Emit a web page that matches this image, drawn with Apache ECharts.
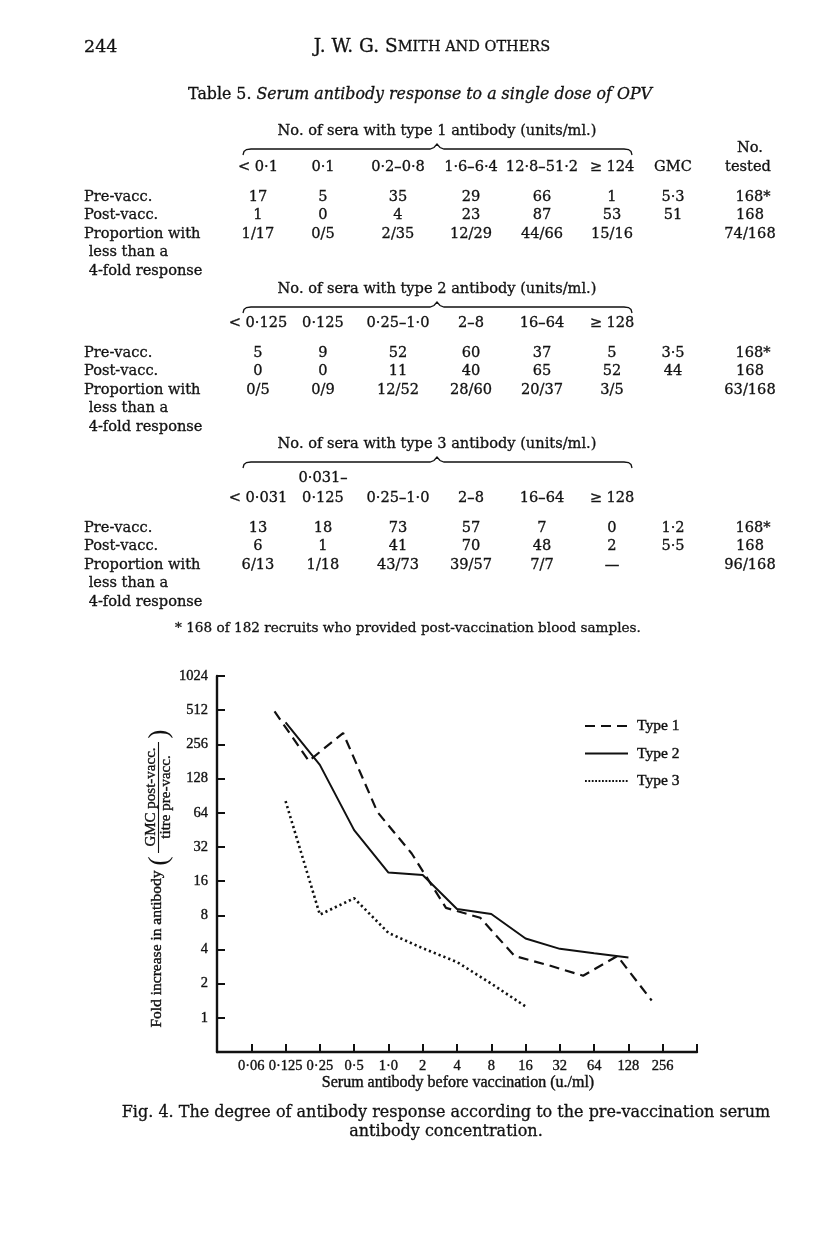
<!DOCTYPE html>
<html><head><meta charset="utf-8">
<script src="https://cdn.jsdelivr.net/npm/echarts@6/dist/echarts.min.js"></script>
<style>html,body{margin:0;padding:0;background:#fff}#c{width:816px;height:1256px}</style>
</head><body><div id="c"></div>
<script>
// ---------- chart data (Fig. 4) ----------
const type1X = [0.1, 0.2, 0.4, 0.8, 1.6, 3.2, 6.4, 12.8, 25.6, 51.2, 102.4, 204.8];
const type1Y = [500, 183, 322, 65, 28, 9.3, 7.6, 3.5, 2.9, 2.35, 3.5, 1.42];
const type2X = [0.125, 0.25, 0.5, 1, 2, 4, 8, 16, 32, 64, 128];
const type2Y = [400, 169, 45, 19, 18.1, 9.1, 8.2, 5.0, 4.05, 3.7, 3.4];
const type3X = [0.125, 0.25, 0.5, 1, 2, 4, 8, 16];
const type3Y = [81, 8.1, 11.3, 5.6, 4.1, 3.1, 2.0, 1.26];
const xTickValues = [0.0625, 0.125, 0.25, 0.5, 1, 2, 4, 8, 16, 32, 64, 128, 256];
const xTickLabels = ['0·06', '0·125', '0·25', '0·5', '1·0', '2', '4', '8', '16', '32', '64', '128', '256'];
const yTickValues = [1, 2, 4, 8, 16, 32, 64, 128, 256, 512, 1024];
const yTickLabels = ['1', '2', '4', '8', '16', '32', '64', '128', '256', '512', '1024'];
const seriesNames = ['Type 1', 'Type 2', 'Type 3'];

// ---------- table data (Table 5) ----------
const t1Cats = ['< 0·1', '0·1', '0·2–0·8', '1·6–6·4', '12·8–51·2', '≥ 124'];
const t1Pre = ['17', '5', '35', '29', '66', '1'];
const t1Post = ['1', '0', '4', '23', '87', '53'];
const t1Prop = ['1/17', '0/5', '2/35', '12/29', '44/66', '15/16'];
const t1GMC = ['5·3', '51'];
const t1Tested = ['168*', '168', '74/168'];
const t2Cats = ['< 0·125', '0·125', '0·25–1·0', '2–8', '16–64', '≥ 128'];
const t2Pre = ['5', '9', '52', '60', '37', '5'];
const t2Post = ['0', '0', '11', '40', '65', '52'];
const t2Prop = ['0/5', '0/9', '12/52', '28/60', '20/37', '3/5'];
const t2GMC = ['3·5', '44'];
const t2Tested = ['168*', '168', '63/168'];
const t3Cats = ['< 0·031', '0·125', '0·25–1·0', '2–8', '16–64', '≥ 128'];
const t3Pre = ['13', '18', '73', '57', '7', '0'];
const t3Post = ['6', '1', '41', '70', '48', '2'];
const t3Prop = ['6/13', '1/18', '43/73', '39/57', '7/7', '—'];
const t3GMC = ['1·2', '5·5'];
const t3Tested = ['168*', '168', '96/168'];
const rowLabels = ['Pre-vacc.', 'Post-vacc.', 'Proportion with', ' less than a', ' 4-fold response'];

// ---------- layout ----------
const INK = '#111111';
const TFONT = '"DejaVu Serif", serif';
const CFONT = '"Liberation Serif", "Times New Roman", serif';
const colX = [258, 323, 398, 471, 542, 612, 673, 750];
const TS = 14.6;
const G = [];
function txt(x, y, s, size, opt) {
  opt = opt || {};
  G.push({
    type: 'text', x: x, y: y, rotation: opt.rot || 0, silent: true,
    style: {
      text: s, font: (opt.style || '') + ' ' + size + 'px ' + (opt.family || TFONT),
      fill: INK, stroke: INK, lineWidth: opt.lw == null ? 0.3 : opt.lw,
      align: opt.align || 'center', verticalAlign: 'middle',
      textAlign: opt.align || 'center', textVerticalAlign: 'middle'
    }
  });
}
function brace(y) {
  const pts = [[243, y + 6], [244, y + 2.5], [246.5, y + 0.6], [251, y], [430, y], [434, y - 1.5], [437, y - 5],
    [440, y - 1.5], [444, y], [624, y], [628.5, y + 0.6], [631, y + 2.5], [632, y + 6]];
  G.push({
    type: 'polyline', silent: true, shape: { points: pts, smooth: 0 },
    style: { stroke: INK, lineWidth: 1.3, fill: null }
  });
}
function block(titleY, typeNo, headerY, cats, pre, post, prop, gmc, tested) {
  txt(437, titleY, 'No. of sera with type ' + typeNo + ' antibody (units/ml.)', TS);
  brace(titleY + 18);
  cats.forEach((c, i) => txt(colX[i], headerY, c, TS));
  const preY = headerY + 30;
  const rows = [pre, post, prop];
  rows.forEach((r, k) => r.forEach((v, i) => txt(colX[i], preY + k * 18.5, v, TS)));
  gmc.forEach((v, k) => txt(colX[6], preY + k * 18.5, v, TS));
  tested.forEach((v, k) => txt(colX[7] + (k === 0 ? 3 : 0), preY + k * 18.5, v, TS));
  rowLabels.forEach((l, k) => txt(84, preY + k * 18.5, l, TS, { align: 'left' }));
}

// page header
txt(84, 47, '244', 17.5, { align: 'left' });
G.push({
  type: 'text', x: 432, y: 47, silent: true,
  style: {
    text: '{a|J. W. G. S}{b|MITH AND OTHERS}', align: 'center', verticalAlign: 'middle',
    textAlign: 'center', textVerticalAlign: 'middle', fill: INK,
    rich: { a: { font: '18.5px ' + TFONT, fill: INK, stroke: INK, lineWidth: 0.3 },
            b: { font: '14.5px ' + TFONT, fill: INK, stroke: INK, lineWidth: 0.3 } }
  }
});
G.push({
  type: 'text', x: 420, y: 95, silent: true,
  style: {
    text: '{a|Table 5. }{b|Serum antibody response to a single dose of OPV}', align: 'center', verticalAlign: 'middle',
    textAlign: 'center', textVerticalAlign: 'middle', fill: INK,
    rich: { a: { font: '15.8px ' + TFONT, fill: INK, stroke: INK, lineWidth: 0.3 },
            b: { font: 'italic 15.8px ' + TFONT, fill: INK, stroke: INK, lineWidth: 0.3 } }
  }
});
txt(750, 148, 'No.', TS);
txt(748, 167, 'tested', TS);
txt(colX[6], 167, 'GMC', TS);
block(131, 1, 167, t1Cats, t1Pre, t1Post, t1Prop, t1GMC, t1Tested);
block(289, 2, 323, t2Cats, t2Pre, t2Post, t2Prop, t2GMC, t2Tested);
txt(colX[1], 478, '0·031–', TS);
block(444, 3, 498, t3Cats, t3Pre, t3Post, t3Prop, t3GMC, t3Tested);
txt(408, 628, '* 168 of 182 recruits who provided post-vaccination blood samples.', 13.6);

// chart texts
txt(458, 1083, 'Serum antibody before vaccination (u./ml)', 16, { family: CFONT, lw: 0.4 });
txt(157, 949, 'Fold increase in antibody', 15.5, { family: CFONT, rot: Math.PI / 2, lw: 0.4 });
txt(151, 797, 'GMC post-vacc.', 15, { family: CFONT, rot: Math.PI / 2, lw: 0.35 });
txt(166.5, 797, 'titre pre-vacc.', 15, { family: CFONT, rot: Math.PI / 2, lw: 0.35 });
G.push({ type: 'line', silent: true, shape: { x1: 158.5, y1: 742, x2: 158.5, y2: 853 }, style: { stroke: INK, lineWidth: 1.1 } });
txt(160, 861, '(', 28, { family: CFONT, rot: Math.PI / 2, lw: 0 });
txt(160, 734, ')', 28, { family: CFONT, rot: Math.PI / 2, lw: 0 });

// legend (drawn)
const legDash = [[10, 6], null, [1.8, 1.6]];
const legW = [2.2, 2.2, 1.8];
seriesNames.forEach((n, i) => {
  const y = 726 + i * 27.5;
  G.push({ type: 'line', silent: true, shape: { x1: 585, y1: y, x2: 628, y2: y },
    style: { stroke: INK, lineWidth: legW[i], lineDash: legDash[i] } });
  txt(637, y, n, 15.5, { family: CFONT, align: 'left', lw: 0.4 });
});

// caption
txt(446, 1113, 'Fig. 4. The degree of antibody response according to the pre-vaccination serum', 16);
txt(446, 1132, 'antibody concentration.', 16);

function lookup(vals, labels) {
  return function (v) {
    const e = Math.log2(v);
    for (let i = 0; i < vals.length; i++) if (Math.abs(Math.log2(vals[i]) - e) < 0.01) return labels[i];
    return '';
  };
}
const axisCommon = {
  type: 'log', logBase: 2, interval: 1,
  axisLine: { show: true, onZero: false, lineStyle: { color: INK, width: 2.4 } },
  axisTick: { show: true, inside: true, length: 8, lineStyle: { color: INK, width: 2 } },
  splitLine: { show: false }, minorTick: { show: false }, minorSplitLine: { show: false }
};
const labelCommon = { color: INK, fontFamily: CFONT, fontSize: 14.5, textBorderColor: INK, textBorderWidth: 0.35 };
const chart = echarts.init(document.getElementById('c'), null, { renderer: 'canvas', width: 816, height: 1256 });
chart.setOption({
  backgroundColor: '#ffffff',
  animation: false,
  grid: { left: 217, top: 676, width: 480, height: 376, containLabel: false },
  xAxis: Object.assign({}, axisCommon, {
    min: 1 / 32, max: 512,
    axisLabel: Object.assign({ formatter: lookup(xTickValues, xTickLabels), margin: 7 }, labelCommon)
  }),
  yAxis: Object.assign({}, axisCommon, {
    min: 0.5, max: 1024,
    axisLabel: Object.assign({ formatter: lookup(yTickValues, yTickLabels), margin: 9 }, labelCommon)
  }),
  series: [
    { name: seriesNames[0], type: 'line', symbol: 'none', data: type1X.map((x, i) => [x, type1Y[i]]),
      lineStyle: { color: INK, width: 2.2, type: [10, 6] } },
    { name: seriesNames[1], type: 'line', symbol: 'none', data: type2X.map((x, i) => [x, type2Y[i]]),
      lineStyle: { color: INK, width: 2 } },
    { name: seriesNames[2], type: 'line', symbol: 'none', data: type3X.map((x, i) => [x, type3Y[i]]),
      lineStyle: { color: INK, width: 2.6, type: [2.2, 3] } }
  ],
  graphic: { elements: G }
});
</script></body></html>
